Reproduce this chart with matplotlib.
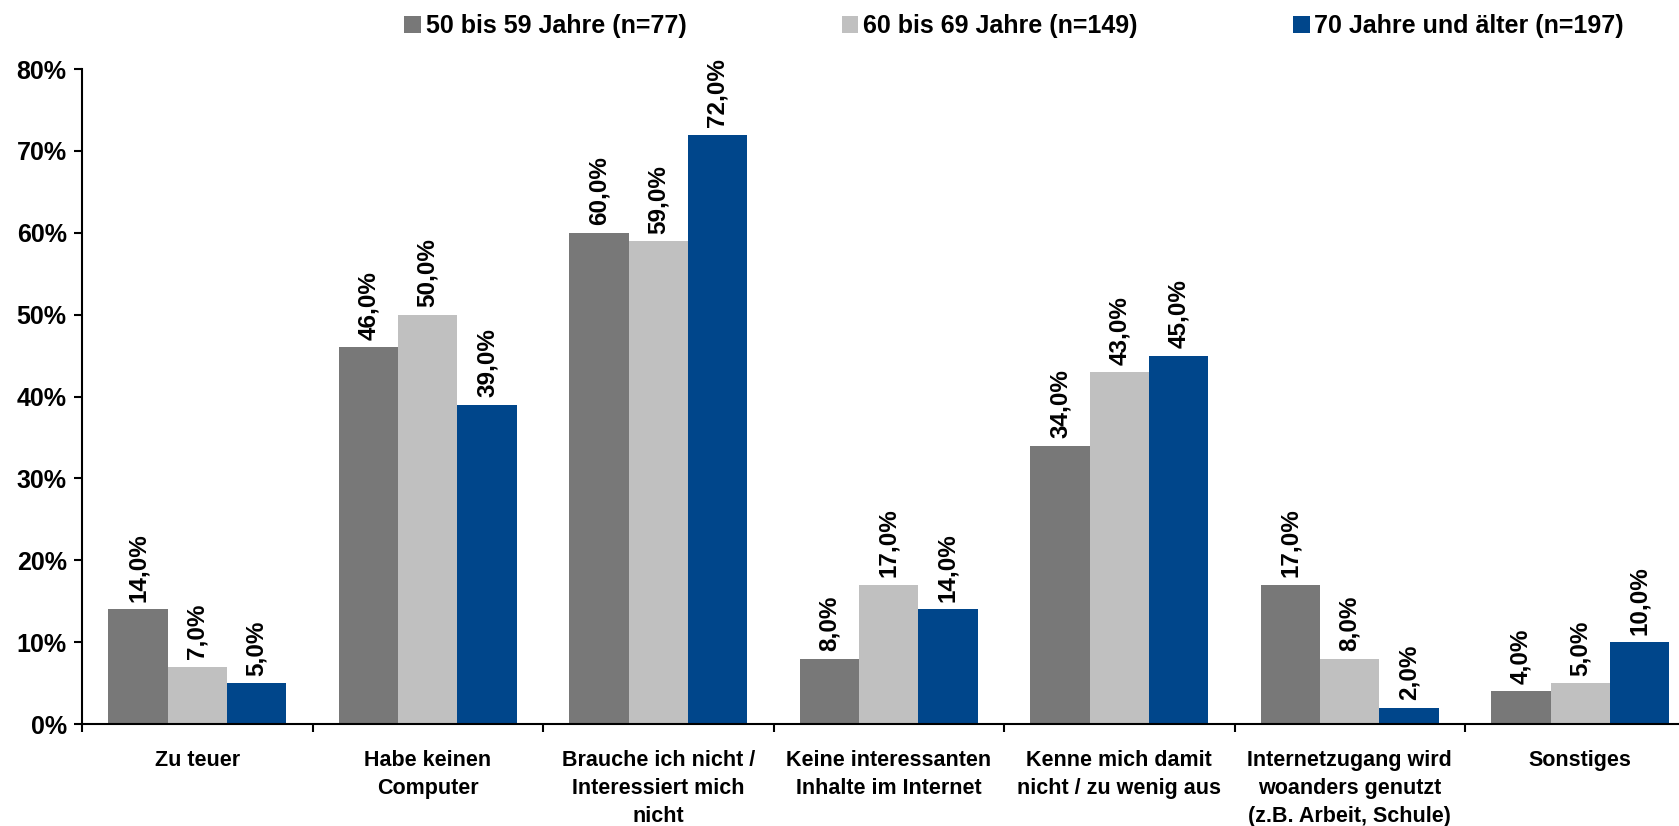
import matplotlib

matplotlib.use("Agg")
import matplotlib.pyplot as plt
import numpy as np
from matplotlib.patches import Patch

plt.rcParams["font.family"] = ["Liberation Sans", "DejaVu Sans"]
plt.rcParams["font.weight"] = "bold"

categories = [
    "Zu teuer",
    "Habe keinen\nComputer",
    "Brauche ich nicht /\nInteressiert mich\nnicht",
    "Keine interessanten\nInhalte im Internet",
    "Kenne mich damit\nnicht / zu wenig aus",
    "Internetzugang wird\nwoanders genutzt\n(z.B. Arbeit, Schule)",
    "Sonstiges",
]
series_names = [
    "50 bis 59 Jahre (n=77)",
    "60 bis 69 Jahre (n=149)",
    "70 Jahre und älter (n=197)",
]
age_50_59 = [14, 46, 60, 8, 34, 17, 4]
age_60_69 = [7, 50, 59, 17, 43, 8, 5]
age_70_plus = [5, 39, 72, 14, 45, 2, 10]
colors = ["#787878", "#C0C0C0", "#00468B"]

W, H = 1679, 826
CAT_W = 230.5
fig = plt.figure(figsize=(W / 100, H / 100), dpi=100)
# the category axis runs slightly past the right edge of the picture, as in the original
ax = fig.add_axes([82 / W, 1 - 724 / H, 7 * CAT_W / W, (724 - 69) / H])

x = np.arange(len(categories))
bw = 0.257
for k, (vals, col) in enumerate(zip([age_50_59, age_60_69, age_70_plus], colors)):
    pos = x + (k - 1) * bw
    ax.bar(pos, vals, width=bw, color=col, edgecolor="none", zorder=2)
    for p, v in zip(pos, vals):
        ax.text(p, v + 0.9, f"{v:.1f}".replace(".", ",") + "%", rotation=90,
                ha="center", va="bottom", fontsize=17.5, fontweight="bold", color="black")

ax.set_xlim(-0.5, len(categories) - 0.5)
ax.set_ylim(0, 80)
ax.set_yticks(range(0, 81, 10))
ax.set_yticklabels([f"{t}%" for t in range(0, 81, 10)], fontsize=18, fontweight="bold")
ax.tick_params(axis="y", direction="out", length=6, width=1.5, pad=5)

# labels on the major ticks (hidden), separators between categories as minor ticks
ax.set_xticks(x)
ax.set_xticklabels(categories, fontsize=15.5, fontweight="bold", linespacing=1.42, va="top")
ax.tick_params(axis="x", length=0, pad=19)
ax.set_xticks(np.arange(-0.5, len(categories) + 0.5, 1), minor=True)
ax.tick_params(axis="x", which="minor", direction="out", length=6, width=1.5)

for s in ["top", "right"]:
    ax.spines[s].set_visible(False)
ax.spines["left"].set_linewidth(1.5)
ax.spines["bottom"].set_linewidth(1.5)

# legend entries sit at the positions of the original, one entry each
legend_x = [404, 842, 1293]
for name, col, lx in zip(series_names, colors, legend_x):
    leg = fig.legend([Patch(facecolor=col, edgecolor="none")], [name],
                     loc="center left", bbox_to_anchor=(lx / W, 1 - 26 / H),
                     frameon=False, handlelength=0.66, handleheight=0.66,
                     handletextpad=0.2, borderpad=0, borderaxespad=0,
                     prop={"weight": "bold", "size": 18})

fig.savefig("out.png", dpi=100, facecolor="white")
